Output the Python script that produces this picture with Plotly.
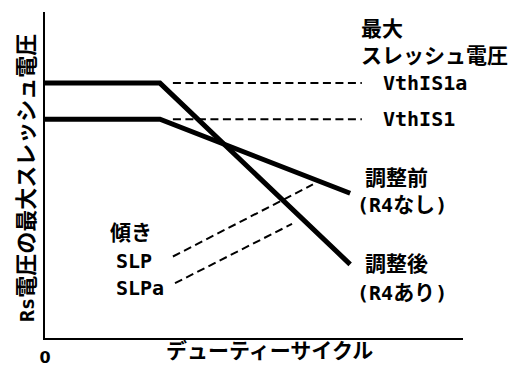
import plotly.graph_objects as go

# ------ data (x: duty cycle, y: max threshold voltage, arbitrary units 0-100) ------
after_x = [0, 27.5, 73.0]          # 調整後 (R4あり)
after_y = [78.2, 78.2, 22.6]
before_x = [0, 27.5, 73.0]         # 調整前 (R4なし)
before_y = [67.1, 67.1, 44.4]

ref_x = [30.6, 75.8]               # dashed guides to threshold labels
vth1a_y = [78.2, 78.2]
vth1_y = [67.1, 67.1]

slp_x = [30.6, 64.1]               # slope leaders
slp_y = [25.0, 47.1]
slpa_x = [31.1, 59.1]
slpa_y = [16.8, 35.0]

# label text, x, y
LAT = '<span style="font-size:20px">%s</span>'
labels = ["最大", "スレッシュ電圧", LAT % "VthIS1a", LAT % "VthIS1", "調整前",
          LAT % "(R4" + "なし" + LAT % ")", "調整後", LAT % "(R4" + "あり" + LAT % ")",
          "傾き", LAT % "SLP", LAT % "SLPa"]
label_x = [75.0, 75.0, 80.4, 80.4, 76.0, 74.2, 76.0, 74.2, 15.0, 16.6, 16.6]
label_y = [94.7, 86.5, 78.2, 67.1, 49.1, 40.9, 22.6, 13.8, 32.1, 23.5, 15.3]

FONT = "DejaVu Sans Mono, Noto Sans CJK JP, sans-serif"

fig = go.Figure()

thick = dict(color="black", width=5)
dashed = dict(color="black", width=2, dash="8px,4.5px")

fig.add_trace(go.Scatter(x=after_x, y=after_y, mode="lines", line=thick))
fig.add_trace(go.Scatter(x=before_x, y=before_y, mode="lines", line=thick))
fig.add_trace(go.Scatter(x=ref_x, y=vth1a_y, mode="lines", line=dashed))
fig.add_trace(go.Scatter(x=ref_x, y=vth1_y, mode="lines", line=dashed))
fig.add_trace(go.Scatter(x=slp_x, y=slp_y, mode="lines", line=dashed))
fig.add_trace(go.Scatter(x=slpa_x, y=slpa_y, mode="lines", line=dashed))

for t, x, y in zip(labels, label_x, label_y):
    fig.add_annotation(x=x, y=y, text=t, showarrow=False, xanchor="left", yanchor="middle",
                       font=dict(family=FONT, size=21, color="black", weight="bold"))

# axis titles
fig.add_annotation(x=53.6, y=-0.041, xref="x", yref="paper", text="デューティーサイクル",
                   showarrow=False, xanchor="center", yanchor="middle",
                   font=dict(family=FONT, size=21, color="black", weight="bold"))
fig.add_annotation(x=-0.043, y=0.491, xref="paper", yref="paper",
                   text='<span style="font-size:20px">Rs</span>電圧の最大スレッシュ電圧',
                   showarrow=False, textangle=-90, xanchor="center", yanchor="middle",
                   font=dict(family=FONT, size=22, color="black", weight="bold"))

fig.update_xaxes(range=[0, 100], showline=True, linewidth=2, linecolor="black",
                 showgrid=False, zeroline=False, tickvals=[0], ticktext=["0"], ticks="",
                 ticklabelstandoff=4,
                 tickfont=dict(family="DejaVu Sans", size=16, color="black", weight="bold"))
fig.update_yaxes(range=[0, 100], showline=True, linewidth=2, linecolor="black",
                 showgrid=False, zeroline=False, showticklabels=False, ticks="")

fig.update_layout(
    width=515, height=379,
    margin=dict(l=45, r=52, t=12, b=27),
    showlegend=False,
    plot_bgcolor="white",
    paper_bgcolor="white",
)

# pin the figure to the window's top-left corner, no page margin or scrolling
page_css = ("document.documentElement.style.overflow = 'hidden';"
            "document.body.style.margin = '0';"
            "document.body.style.overflow = 'hidden';"
            "var gd = document.getElementById('{plot_id}');"
            "gd.style.position = 'fixed'; gd.style.left = '0'; gd.style.top = '0';")
fig.write_html("out.html", config={"displayModeBar": False}, post_script=page_css)
